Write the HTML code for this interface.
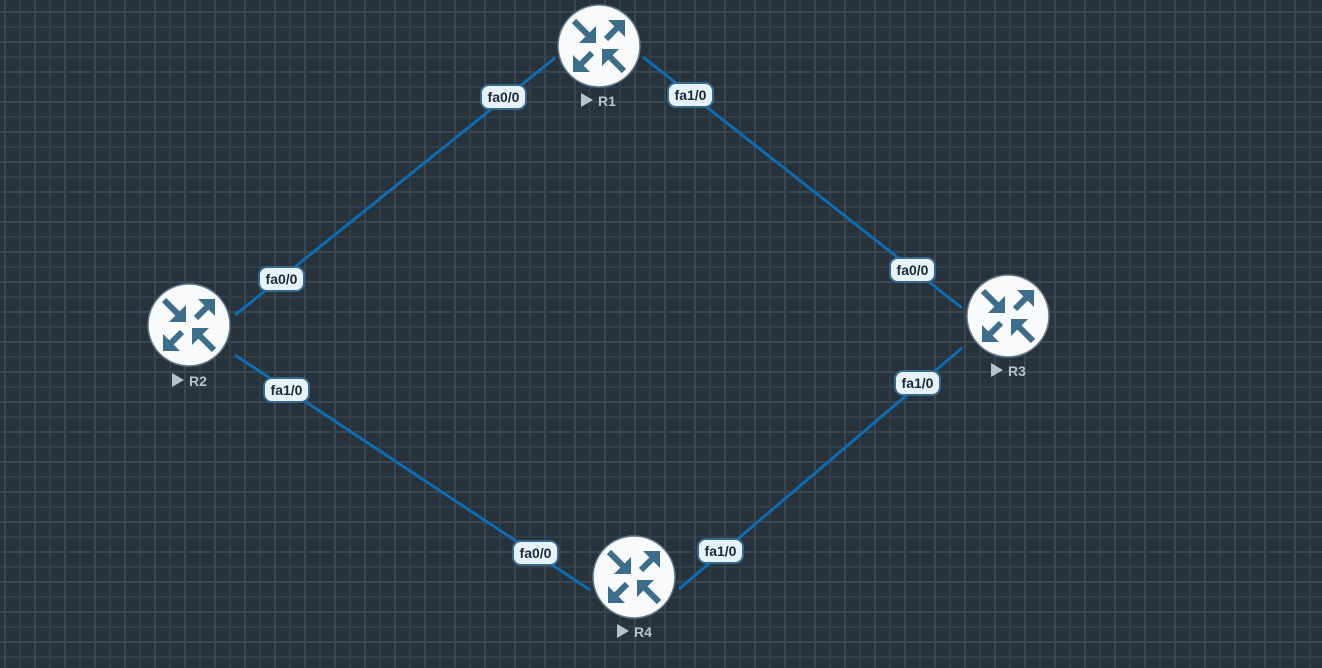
<!DOCTYPE html>
<html><head><style>
html,body{margin:0;padding:0}
body{width:1322px;height:668px;overflow:hidden;background-color:#27323b;
background-image:
linear-gradient(transparent 11px,#3a4753 11px,#3a4753 13px,transparent 13px),
linear-gradient(90deg,transparent 4px,#3a4753 4px,#3a4753 6px,transparent 6px),
linear-gradient(transparent 26px,#313d48 26px,#313d48 28px,transparent 28px),
linear-gradient(90deg,transparent 19px,#313d48 19px,#313d48 21px,transparent 21px);
background-size:30px 30px;
font-family:"Liberation Sans",sans-serif;position:relative}
svg{position:absolute;left:0;top:0}
.lb{position:absolute;width:43px;height:22px;margin:-13px 0 0 -24px;background:#e6f3fc;border:2.5px solid #36698e;border-radius:9px;font-size:14px;font-weight:bold;color:#1e2a33;text-align:center;line-height:22px}
.nm{position:absolute;color:#b9c3cb;font-size:14px;font-weight:bold}
</style></head><body>
<svg width="1322" height="668">
<defs>
<g id="rt">
<circle r="41" fill="#f9fafb" stroke="#5f7a8c" stroke-width="1.5"/>
<g fill="#3c6e8c" stroke="#3c6e8c" stroke-width="6">
<line x1="-25" y1="-25" x2="-10" y2="-10"/><polygon points="-3,-3 -3,-20 -20,-3" stroke="none"/>
<line x1="7" y1="-7" x2="19" y2="-19"/><polygon points="26,-26 9,-26 26,-9" stroke="none"/>
<line x1="-7" y1="7" x2="-19" y2="19"/><polygon points="-26,26 -26,9 -9,26" stroke="none"/>
<line x1="25" y1="25" x2="10" y2="10"/><polygon points="3,3 20,3 3,20" stroke="none"/>
</g>
</g>
</defs>
<g stroke="#0d6cb2" stroke-width="3">
<line x1="555" y1="58" x2="235" y2="315"/>
<line x1="643" y1="57" x2="962" y2="308"/>
<line x1="235" y1="355" x2="590" y2="590"/>
<line x1="962" y1="348" x2="679" y2="589"/>
</g>
<use href="#rt" x="599" y="46"/>
<use href="#rt" x="189" y="325"/>
<use href="#rt" x="1008" y="316"/>
<use href="#rt" x="634" y="577"/>
<g fill="#b9c3cb">
<polygon points="581,93 581,107 593,100"/>
<polygon points="172,373 172,387 184,380"/>
<polygon points="991,363 991,377 1003,370"/>
<polygon points="617,624 617,638 629,631"/>
</g>
</svg>
<div class="nm" style="left:598px;top:93px">R1</div>
<div class="nm" style="left:189px;top:373px">R2</div>
<div class="nm" style="left:1008px;top:363px">R3</div>
<div class="nm" style="left:634px;top:624px">R4</div>
<div class="lb" style="left:504px;top:97px">fa0/0</div>
<div class="lb" style="left:691px;top:95px">fa1/0</div>
<div class="lb" style="left:282px;top:279px">fa0/0</div>
<div class="lb" style="left:287px;top:390px">fa1/0</div>
<div class="lb" style="left:913px;top:270px">fa0/0</div>
<div class="lb" style="left:918px;top:383px">fa1/0</div>
<div class="lb" style="left:536px;top:553px">fa0/0</div>
<div class="lb" style="left:721px;top:551px">fa1/0</div>
</body></html>
